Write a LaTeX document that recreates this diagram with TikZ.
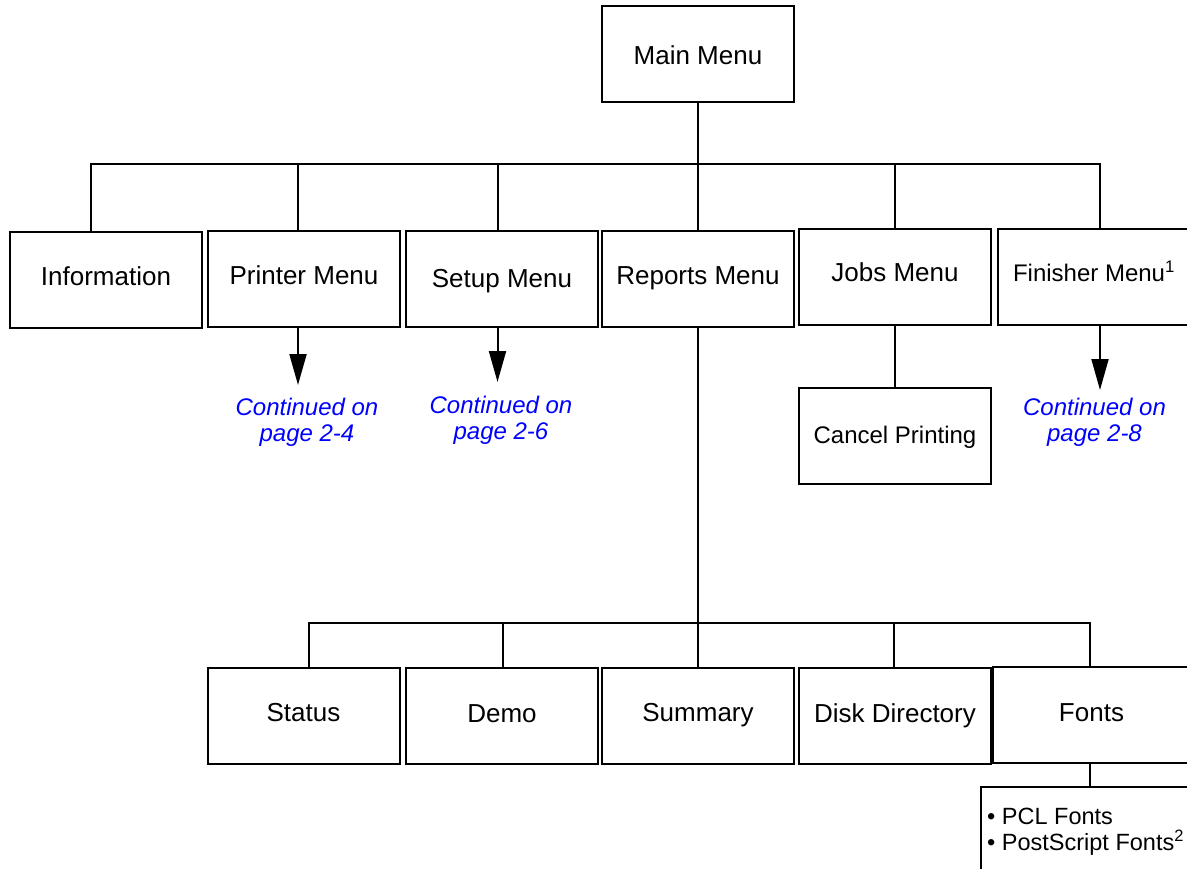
\documentclass[tikz,border=0pt]{standalone}
\usepackage{fontspec}
\setmainfont{Liberation Sans}
\usetikzlibrary{arrows.meta}
\begin{document}
\begin{tikzpicture}[x=1pt,y=-1pt,
  box/.style={draw, line width=2pt, minimum width=192pt, minimum height=96pt, inner sep=0pt,
    font=\fontsize{26pt}{30pt}\selectfont, text height=18.6pt, text depth=0pt},
  smallbox/.style={box, font=\fontsize{24pt}{28pt}\selectfont, text height=17.2pt},
  wire/.style={line width=2pt},
  arr/.style={line width=2pt, -{Triangle[width=17pt,length=31pt]}},
  cont/.style={align=center, text=blue, inner sep=0pt, font=\fontsize{24pt}{26pt}\selectfont\itshape},
  lst/.style={align=left, anchor=west, inner sep=0pt, font=\fontsize{23.5pt}{26pt}\selectfont}]
\useasboundingbox (0,0) rectangle (1187,869);

% boxes
\node[box, text height=21pt] (main) at (698,54.5) {Main Menu};
\node[box, text depth=7pt] (info) at (106,280) {Information};
\node[box, text depth=7pt] (prn) at (304,279) {Printer Menu};
\node[box, text depth=2pt] (setup) at (502,279) {Setup Menu};
\node[box, text depth=8pt] (rep) at (698,279) {Reports Menu};
\node[box, text depth=9pt] (jobs) at (895,277) {Jobs Menu};
\node[smallbox, text depth=9pt] (fin) at (1094,277) {Finisher Menu\textsuperscript{1}};
\node[smallbox, text depth=3pt] (cancel) at (895,436) {Cancel Printing};

\node[box, text depth=7pt] (stat) at (303.5,716) {Status};
\node[box, text depth=6pt] (demo) at (502,716) {Demo};
\node[box, text depth=7pt] (sum) at (698,716) {Summary};
\node[box, text depth=6pt] (disk) at (895,716) {Disk Directory};
\node[box, text depth=5pt, minimum width=197pt] (fonts) at (1091.5,715) {Fonts};

% top bus
\coordinate (t1) at (91,164);
\coordinate (t2) at (298,164);
\coordinate (t3) at (497.5,164);
\coordinate (t4) at (698,164);
\coordinate (t5) at (895,164);
\coordinate (t6) at (1100,164);
\draw[wire] (main.south) -- (t4);
\draw[wire] (t1 |- info.north) -- (t1) -- (t6) -- (t6 |- fin.north);
\draw[wire] (t2) -- (t2 |- prn.north);
\draw[wire] (t3) -- (t3 |- setup.north);
\draw[wire] (t4) -- (rep.north);
\draw[wire] (t5) -- (jobs.north);

% arrows to continuation notes
\coordinate (a2) at (298,385);
\coordinate (a3) at (497.5,382);
\coordinate (a6) at (1100,390);
\draw[arr] (a2 |- prn.south) -- (a2);
\draw[arr] (a3 |- setup.south) -- (a3);
\draw[arr] (a6 |- fin.south) -- (a6);
\node[cont] (c2) at (307,422) {Continued on\\page 2-4};
\node[cont] (c3) at (501,420) {Continued on\\page 2-6};
\node[cont] (c6) at (1094.5,422) {Continued on\\page 2-8};

% jobs -> cancel
\draw[wire] (jobs.south) -- (cancel.north);

% reports -> bottom row
\coordinate (b1) at (309,623);
\coordinate (b2) at (503,623);
\coordinate (b4) at (894,623);
\coordinate (b5) at (1090,623);
\draw[wire] (rep.south) -- (sum.north);
\draw[wire] (b1 |- stat.north) -- (b1) -- (b5) -- (b5 |- fonts.north);
\draw[wire] (b2) -- (b2 |- demo.north);
\draw[wire] (b4) -- (b4 |- disk.north);

% fonts list (open box)
\coordinate (flTL) at (981,787);
\draw[wire] (b5 |- fonts.south) -- (b5 |- flTL);
\draw[wire] (1195,787) -- (flTL) -- (981,880);
\node[lst] (flist) at (987,832) {• PCL Fonts\\• PostScript Fonts\textsuperscript{2}};
\end{tikzpicture}
\end{document}
